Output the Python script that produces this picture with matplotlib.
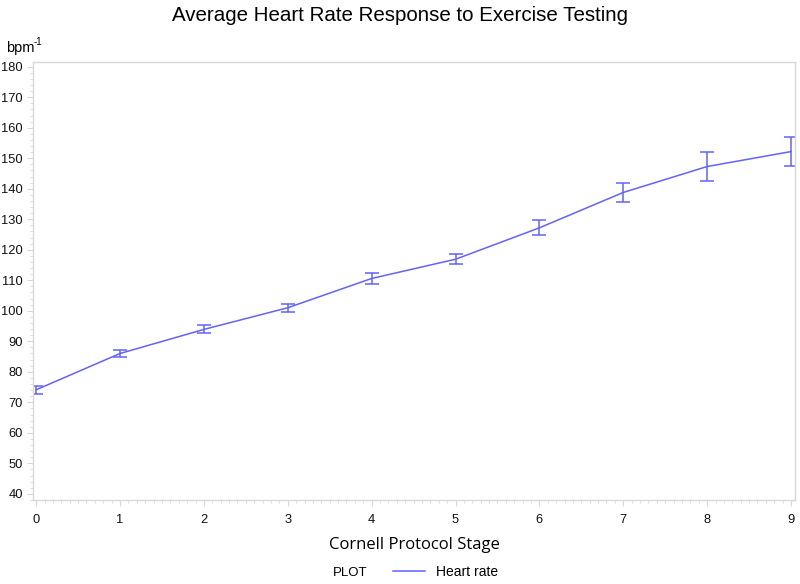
import numpy as np
import matplotlib.pyplot as plt
from matplotlib.ticker import MultipleLocator
from matplotlib.lines import Line2D

plt.rcParams['font.family'] = ['Liberation Sans', 'DejaVu Sans']

stages = [0, 1, 2, 3, 4, 5, 6, 7, 8, 9]
heart_rate = [74.1, 86.0, 93.9, 101.0, 110.6, 116.9, 127.2, 138.8, 147.3, 152.2]
err = [1.3, 1.1, 1.3, 1.3, 1.8, 1.7, 2.5, 3.0, 4.9, 4.8]

line_col = '#6262ff'
spine_col = '#d8d8d8'

fig = plt.figure(figsize=(8, 5.84), dpi=100)
ax = fig.add_axes([0.041, 0.144, 0.953, 0.750])

ax.errorbar(stages, heart_rate, yerr=err, color=line_col, lw=1.1,
            elinewidth=1.1, capsize=5, capthick=1.1)

ax.set_xlim(-0.04, 9.05)
ax.set_ylim(38, 181.6)
ax.xaxis.set_major_locator(MultipleLocator(1))
ax.xaxis.set_minor_locator(MultipleLocator(0.1))
ax.yaxis.set_major_locator(MultipleLocator(10))
ax.yaxis.set_minor_locator(MultipleLocator(2))

for s in ax.spines.values():
    s.set_color(spine_col)
    s.set_linewidth(1.0)

ax.tick_params(which='both', color=spine_col, labelsize=9.3, labelcolor='#111111')
ax.tick_params(which='major', length=4)
ax.tick_params(which='minor', length=2.5)
ax.tick_params(axis='x', pad=6)
ax.tick_params(axis='y', pad=3)

fig.text(0.5, 0.974, 'Average Heart Rate Response to Exercise Testing',
         ha='center', va='center', fontsize=14.8)
fig.text(0.008, 0.918, 'bpm', ha='left', va='center', fontsize=10.5)
fig.text(0.042, 0.928, '-1', ha='left', va='center', fontsize=7)
ax.set_xlabel('Cornell Protocol Stage', fontsize=12, family='Open Sans', labelpad=8)

fig.text(0.438, 0.019, 'PLOT', ha='center', va='center', fontsize=9.5)
fig.legend(handles=[Line2D([], [], color=line_col, lw=1.1)], labels=['Heart rate'],
           loc='center', bbox_to_anchor=(0.557, 0.021), frameon=False,
           fontsize=10, handlelength=2.3, handletextpad=0.8)

fig.savefig('out.png', dpi=100)
